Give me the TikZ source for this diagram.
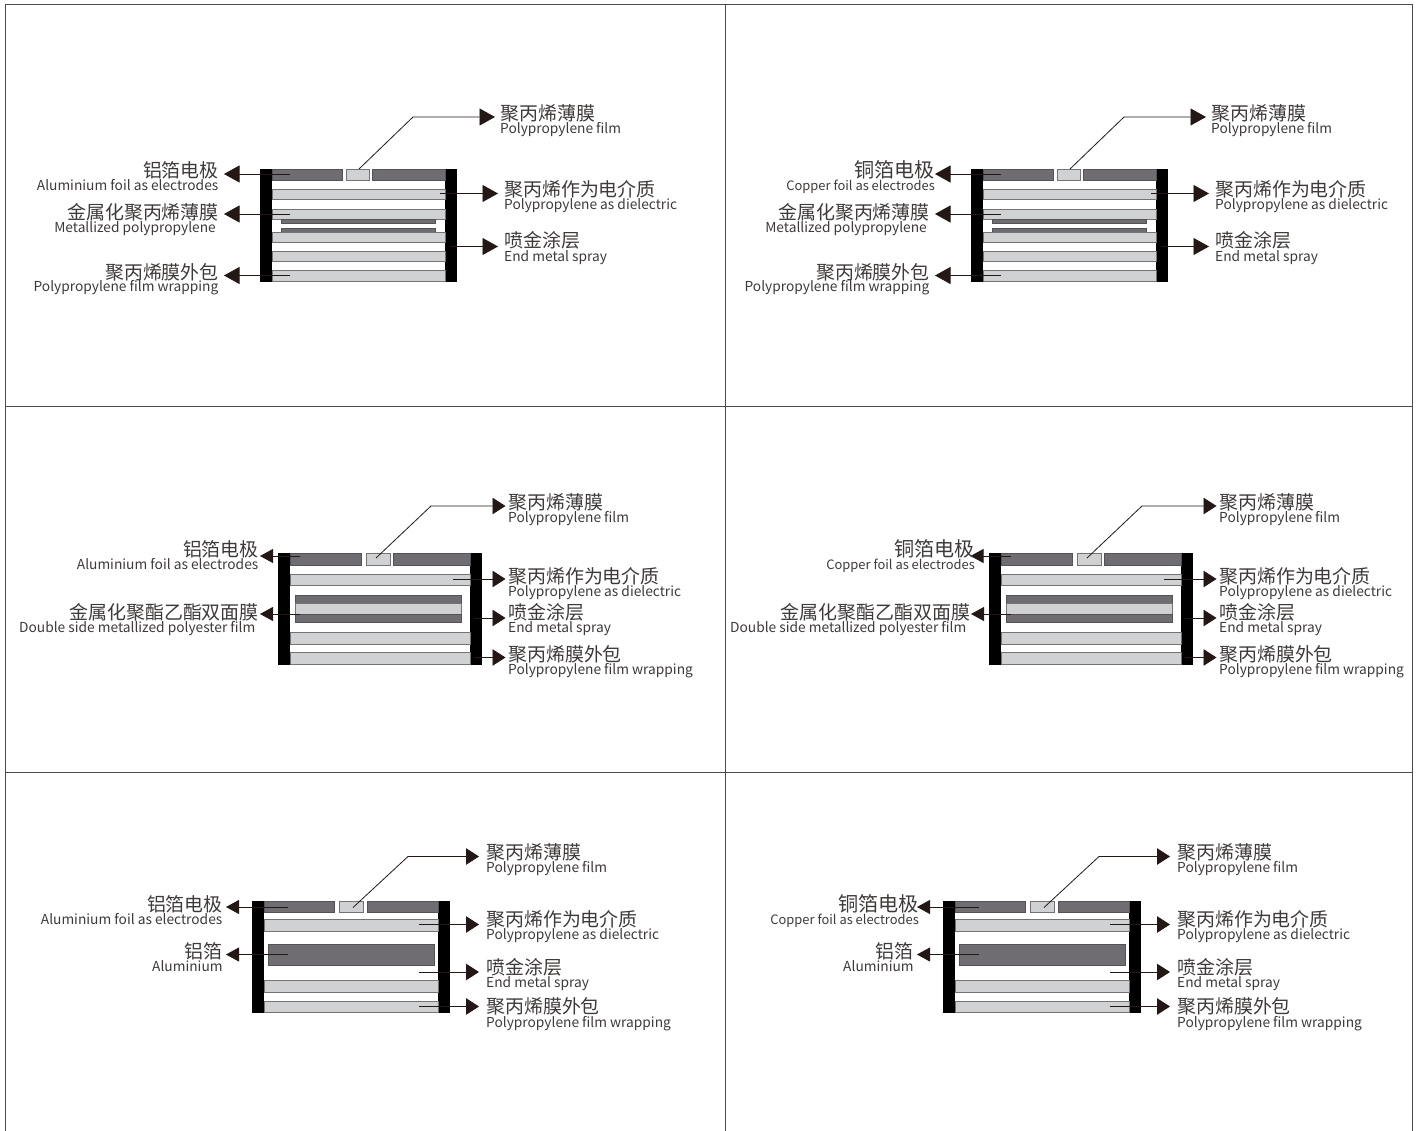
\documentclass[tikz,border=0pt]{standalone}
\usepackage{fontspec}
\setmainfont{Noto Sans CJK SC}
\usepackage{tikz}
\usetikzlibrary{arrows.meta}
\usetikzlibrary{positioning}
\definecolor{foilc}{HTML}{6F6D72}
\definecolor{filmc}{HTML}{D0D1D2}
\definecolor{linec}{HTML}{231815}
\definecolor{textc}{HTML}{3E3A39}
\newcommand{\strip}[5]{\draw[#1] (#2, #3) rectangle (#4, #5);}
\newcommand{\copperfont}{\fontsize{12.9}{15}\selectfont}
\newcommand{\copperzh}{\fontsize{20.1}{21}\selectfont}
% one callout: name, zh text, en text, anchor, x and y of zh, x and y of en
\newcommand{\zhen}[8]{%
	\node[zhlabel, anchor=#4] (#1zh) at (#5, #6) {#2};
	\node[enlabel, anchor=#4] (#1en) at (#7, #8) {#3};
}
\begin{document}
\begin{tikzpicture}[
		x=1pt, y=-1pt,
		foil/.style={draw=foilc!75!black, fill=foilc, line width=0.7pt},
		film/.style={draw=black!55, fill=filmc, line width=0.7pt},
		endbar/.style={fill=black},
		frame/.style={draw=black!70, line width=1pt},
		zhlabel/.style={font=\fontsize{18.95}{20}\selectfont, text=textc, inner sep=0pt},
		enlabel/.style={font=\fontsize{13.75}{15}\selectfont, text=textc, inner sep=0pt, text height=12.3pt, text depth=2pt},
		callout/.style={draw=linec, line width=0.8pt, -{Triangle[length=15.5pt, width=17pt]}},
		calloutl/.style={draw=linec, line width=0.8pt, -{Triangle[length=13pt, width=14pt]}},
		calloutr/.style={draw=linec, line width=0.8pt, -{Triangle[length=13pt, width=16.5pt]}},
		]
		\useasboundingbox (0, 0) rectangle (1418, 1131);

		% frame
		\coordinate (tl) at (5, 5);
		\coordinate (tm) at (725, 5);
		\coordinate (tr) at (1412.5, 5);
		\coordinate (bl) at (5, 1131);
		\coordinate (bm) at (725, 1131);
		\coordinate (br) at (1412.5, 1131);
		\draw[frame] (bl) -- (tl) -- (tr) -- (br);
		\draw[frame] (tm) -- (bm);
		\foreach \i [count=\row from 1] in {406,772} {
			\coordinate (ml\row) at (5, \i);
			\coordinate (mr\row) at (1412.5, \i);
			\draw[frame] (ml\row) -- (mr\row);
		}

		% top row
		\foreach \dx/\p/\zh/\en/\zhx/\enx in {0/a/铝箔电极/Aluminium foil as electrodes/219/218.5, 711/b/\copperzh 铜箔电极/\copperfont Copper foil as electrodes/935/935} {
			\begin{scope}[xshift=\dx]
				\fill[endbar] (260, 169) rectangle (272, 282);
				\fill[endbar] (445, 169) rectangle (457, 282);
				\strip{foil}{272}{169.5}{342}{180}
				\strip{film}{346}{169.5}{369}{180}
				\strip{foil}{372}{169.5}{445}{180}
				\strip{film}{272}{189}{445}{199.5}
				\strip{film}{272}{209.5}{445}{219.5}
				\strip{foil}{281}{219.5}{435}{223.5}
				\strip{foil}{281}{228.5}{435}{232.5}
				\strip{film}{272}{232.5}{445}{242.5}
				\strip{film}{272}{251.5}{445}{261.5}
				\strip{film}{272}{270.5}{445}{281.5}

				\coordinate (\p1s) at (290, 174);
				\coordinate (\p1e) at (224, 174);
				\coordinate (\p2s) at (290, 214);
				\coordinate (\p2e) at (224, 214);
				\coordinate (\p3s) at (290, 275.5);
				\coordinate (\p3e) at (224, 275.5);
				\coordinate (\p4s) at (359, 169);
				\coordinate (\p4m) at (413, 117);
				\coordinate (\p4e) at (495, 117);
				\coordinate (\p5s) at (440, 193.5);
				\coordinate (\p5e) at (498, 193.5);
				\coordinate (\p6s) at (450, 246.5);
				\coordinate (\p6e) at (498, 246.5);
				\draw[callout] (\p1s) -- (\p1e);
				\draw[callout] (\p2s) -- (\p2e);
				\draw[callout] (\p3s) -- (\p3e);
				\draw[callout] (\p4s) -- (\p4m) -- (\p4e);
				\draw[callout] (\p5s) -- (\p5e);
				\draw[callout] (\p6s) -- (\p6e);

				\zhen{\p1}{\zh}{\en}{east}{\zhx-\dx}{170}{\enx-\dx}{185.5}
				\zhen{\p2}{金属化聚丙烯薄膜}{Metallized polypropylene}{east}{219}{212.4}{216}{227.8}
				\zhen{\p3}{聚丙烯膜外包}{Polypropylene film wrapping}{east}{219}{272}{218.5}{286.5}
				\zhen{\p4}{聚丙烯薄膜}{Polypropylene film}{west}{500}{113.5}{500}{128.8}
				\zhen{\p5}{聚丙烯作为电介质}{Polypropylene as dielectric}{west}{504}{189}{504}{204.5}
				\zhen{\p6}{喷金涂层}{End metal spray}{west}{504}{240}{504}{256.5}
			\end{scope}
		}

		% middle row
		\foreach \dx/\p/\tipa/\zh/\en/\zhx/\enx/\zhm/\enm in {0/c/260/铝箔电极/Aluminium foil as electrodes/259/258.5/259/255.5, 711/d/970.5/\copperzh 铜箔电极/\copperfont Copper foil as electrodes/975/975/970.5/966.5} {
			\begin{scope}[xshift=\dx]
				\fill[endbar] (278, 553) rectangle (290, 665);
				\fill[endbar] (470, 553) rectangle (482, 665);
				\strip{foil}{290}{553.5}{361}{565}
				\strip{film}{366}{553.5}{390}{565}
				\strip{foil}{393}{553.5}{470}{565}
				\strip{film}{290}{574.5}{470}{585}
				\strip{foil}{295}{595.5}{461}{603}
				\strip{film}{295}{603}{461}{614}
				\strip{foil}{295}{614}{461}{622}
				\strip{film}{290}{632.5}{470}{644}
				\strip{film}{290}{652.5}{470}{664}

				\coordinate (\p1s) at (300, 556);
				\coordinate (\p1e) at (\tipa-\dx, 556);
				\coordinate (\p2s) at (300, 614);
				\coordinate (\p2e) at (260, 614);
				\coordinate (\p4s) at (376, 558);
				\coordinate (\p4m) at (431, 506);
				\coordinate (\p4e) at (505.5, 506);
				\coordinate (\p5s) at (453, 579);
				\coordinate (\p5e) at (505.5, 579);
				\coordinate (\p6s) at (474, 618);
				\coordinate (\p6e) at (505.5, 618);
				\coordinate (\p7s) at (474, 657.5);
				\coordinate (\p7e) at (505.5, 657.5);
				\draw[calloutl] (\p1s) -- (\p1e);
				\draw[calloutl] (\p2s) -- (\p2e);
				\draw[calloutr] (\p4s) -- (\p4m) -- (\p4e);
				\draw[calloutr] (\p5s) -- (\p5e);
				\draw[calloutr] (\p6s) -- (\p6e);
				\draw[calloutr] (\p7s) -- (\p7e);

				\zhen{\p1}{\zh}{\en}{east}{\zhx-\dx}{549.3}{\enx-\dx}{564.5}
				\zhen{\p2}{金属化聚酯乙酯双面膜}{Double side metallized polyester film}{east}{\zhm-\dx}{612}{\enm-\dx}{627.8}
				\zhen{\p4}{聚丙烯薄膜}{Polypropylene film}{west}{508}{502.4}{508}{517.2}
				\zhen{\p5}{聚丙烯作为电介质}{Polypropylene as dielectric}{west}{508}{576.4}{508}{591.2}
				\zhen{\p6}{喷金涂层}{End metal spray}{west}{508}{612}{508}{627.2}
				\zhen{\p7}{聚丙烯膜外包}{Polypropylene film wrapping}{west}{508}{654}{508}{669.8}
			\end{scope}
		}

		% bottom row
		\foreach \dx/\p/\zh/\en/\zhx/\enx in {0/e/铝箔电极/Aluminium foil as electrodes/223/222.5, 691/f/\copperzh 铜箔电极/\copperfont Copper foil as electrodes/919/919} {
			\begin{scope}[xshift=\dx]
				\fill[endbar] (252, 901) rectangle (264, 1013);
				\fill[endbar] (438, 901) rectangle (450, 1013);
				\strip{foil}{264}{901.5}{334}{912}
				\strip{film}{339}{901.5}{363}{912}
				\strip{foil}{367}{901.5}{438}{912}
				\strip{film}{264}{919.5}{438}{931}
				\strip{foil}{268}{944}{434.5}{965.5}
				\strip{film}{264}{980.5}{438}{992}
				\strip{film}{264}{1001.5}{438}{1012.5}

				\coordinate (\p1s) at (288, 907);
				\coordinate (\p1e) at (226, 907);
				\coordinate (\p2s) at (288, 954.5);
				\coordinate (\p2e) at (226, 954.5);
				\coordinate (\p4s) at (353, 907.5);
				\coordinate (\p4m) at (408, 856.5);
				\coordinate (\p4e) at (479, 856.5);
				\coordinate (\p5s) at (419, 924.5);
				\coordinate (\p5e) at (479, 924.5);
				\coordinate (\p6s) at (419, 972);
				\coordinate (\p6e) at (479, 972);
				\coordinate (\p7s) at (419, 1006.5);
				\coordinate (\p7e) at (479, 1006.5);
				\draw[calloutl] (\p1s) -- (\p1e);
				\draw[calloutl] (\p2s) -- (\p2e);
				\draw[calloutr] (\p4s) -- (\p4m) -- (\p4e);
				\draw[calloutr] (\p5s) -- (\p5e);
				\draw[calloutr] (\p6s) -- (\p6e);
				\draw[calloutr] (\p7s) -- (\p7e);

				\zhen{\p1}{\zh}{\en}{east}{\zhx-\dx}{904}{\enx-\dx}{919.8}
				\zhen{\p2}{铝箔}{Aluminium}{east}{223}{951}{222.8}{966.5}
				\zhen{\p4}{聚丙烯薄膜}{Polypropylene film}{west}{486}{852.4}{486}{867.2}
				\zhen{\p5}{聚丙烯作为电介质}{Polypropylene as dielectric}{west}{486}{919.5}{486}{934.5}
				\zhen{\p6}{喷金涂层}{End metal spray}{west}{486}{967}{486}{982.8}
				\zhen{\p7}{聚丙烯膜外包}{Polypropylene film wrapping}{west}{486}{1006.5}{486}{1022.2}
			\end{scope}
		}
\end{tikzpicture}
\end{document}
